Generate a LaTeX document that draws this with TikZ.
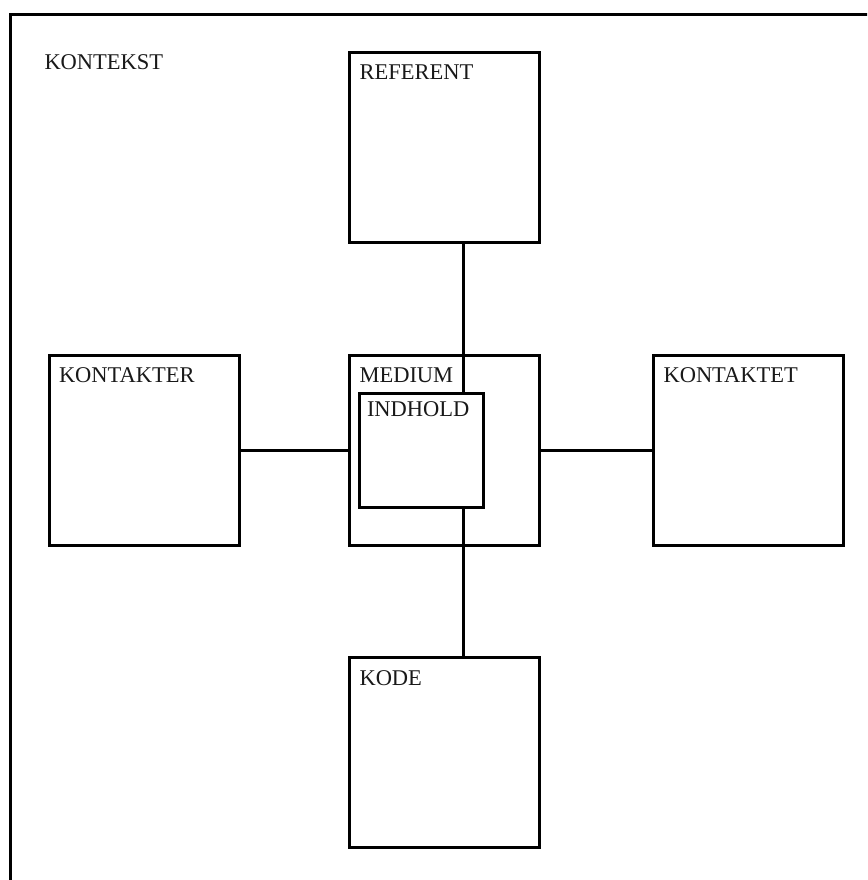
\documentclass[tikz,border=0pt]{standalone}
\usepackage{fontspec}
\setmainfont{Liberation Serif}
\usetikzlibrary{positioning}

\begin{document}
\begin{tikzpicture}[x=1pt, y=-1pt, line width=3pt,
  felt/.style={draw, minimum width=190pt, minimum height=190pt, inner sep=0pt},
  navn/.style={anchor=base west, inner sep=0pt, font=\fontsize{22.5}{27}\selectfont, text=black!90}]
\useasboundingbox (0,0) rectangle (867,880);
\clip (0,0) rectangle (867,880);
% kontekst rammen
\draw (10,15) rectangle (900,920);
\node [navn] (kontekst) at (43,70) {KONTEKST};
% felterne
\node [felt] (referent) at (444.5,147.5) {};
\node [felt] (kontakter) at (144,450) {};
\node [felt] (medium) at (444.5,450) {};
\node [felt] (kontaktet) at (748.5,450) {};
\node [felt] (kode) at (444.5,752.5) {};
\node [felt, minimum width=124pt, minimum height=114pt] (indhold) at (421,450) {};
% navne
\node [navn] at ([shift={(10,29)}]referent.north west) {REFERENT};
\node [navn] at ([shift={(10,29)}]kontakter.north west) {KONTAKTER};
\node [navn] at ([shift={(10,29)}]medium.north west) {MEDIUM};
\node [navn] at ([shift={(10,29)}]kontaktet.north west) {KONTAKTET};
\node [navn] at ([shift={(8,25)}]indhold.north west) {INDHOLD};
\node [navn] at ([shift={(10,29)}]kode.north west) {KODE};
% forbindelser
\coordinate (akse) at (463,0);
\draw (referent.south -| akse) -- (indhold.north -| akse);
\draw (indhold.south -| akse) -- (kode.north -| akse);
\draw (kontakter.east) -- (medium.west);
\draw (medium.east) -- (kontaktet.west);
\end{tikzpicture}
\end{document}
